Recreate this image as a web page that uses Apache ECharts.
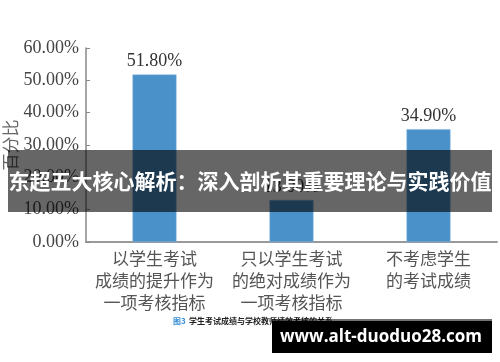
<!DOCTYPE html>
<html>
<head>
<meta charset="utf-8">
<script src="https://cdn.jsdelivr.net/npm/echarts@6/dist/echarts.min.js"></script>
<style>
html,body{margin:0;padding:0;background:#fff;}
#c{width:500px;height:362px;}
</style>
</head>
<body>
<div id="c"></div>
<script>
const categories = [
  '以学生考试\n成绩的提升作为\n一项考核指标',
  '只以学生考试\n的绝对成绩作为\n一项考核指标',
  '不考虑学生\n的考试成绩'
];
const values = [51.8, 13.0, 34.9];
const yTicks = [0, 10, 20, 30, 40, 50, 60];
const yAxisName = '百分比';
const caption = '学生考试成绩与学校教师绩效考核的关系';
const bannerText = '东超五大核心解析：深入剖析其重要理论与实践价值';
const watermark = 'www.alt-duoduo28.com';

const serif = '"Liberation Serif", "DejaVu Serif", serif';
const cjk = '"Noto Sans CJK SC", sans-serif';

const chart = echarts.init(document.getElementById('c'));
chart.setOption({
  animation: false,
  backgroundColor: '#fff',
  grid: { left: 86, right: 3, top: 48, bottom: 120, containLabel: false, outerBoundsMode: 'none' },
  xAxis: {
    type: 'category',
    data: categories,
    axisLine: { lineStyle: { color: '#999', width: 2 } },
    axisTick: { show: false },
    axisLabel: {
      interval: 0,
      color: '#555',
      fontFamily: cjk,
      fontSize: 17,
      lineHeight: 22,
      margin: 6,
      align: 'center'
    }
  },
  yAxis: {
    type: 'value',
    min: yTicks[0],
    max: yTicks[yTicks.length - 1],
    interval: 10,
    name: yAxisName,
    nameLocation: 'middle',
    nameRotate: 90,
    nameGap: 67,
    nameMoveOverlap: false,
    nameTextStyle: { color: '#666', fontFamily: cjk, fontSize: 17 },
    axisLine: { show: true, lineStyle: { color: '#888', width: 1.5 } },
    axisTick: { show: true, inside: true, length: 4, lineStyle: { color: '#888' } },
    splitLine: { show: false },
    axisLabel: {
      color: '#444',
      fontFamily: serif,
      fontSize: 18,
      margin: 7,
      formatter: v => v.toFixed(2) + '%'
    }
  },
  series: [{
    type: 'bar',
    data: values,
    barWidth: 44,
    itemStyle: { color: '#4a90c9', borderColor: '#8dbbe0', borderWidth: 0.5 },
    label: {
      show: true,
      position: 'top',
      distance: 4,
      color: '#333',
      fontFamily: serif,
      fontSize: 18,
      formatter: p => p.value.toFixed(2) + '%'
    }
  }],
  graphic: [
    {
      type: 'text',
      left: 173,
      top: 315,
      style: {
        text: '{b|图3} {t|' + caption + '}',
        rich: {
          b: { fill: '#3a8fd8', fontSize: 8, fontFamily: cjk, fontWeight: 'bold' },
          t: { fill: '#222', fontSize: 8, fontFamily: cjk, fontWeight: 'bold' }
        }
      },
      z: 100
    },
    {
      type: 'rect',
      shape: { x: 8, y: 150, width: 484, height: 62 },
      style: { fill: 'rgba(0,0,0,0.6)' },
      z: 200
    },
    {
      type: 'text',
      x: 250, y: 181,
      style: {
        text: bannerText,
        fill: '#fff',
        fontSize: 21,
        fontWeight: 'bold',
        fontFamily: cjk,
        align: 'center',
        verticalAlign: 'middle'
      },
      z: 201
    },
    {
      type: 'rect',
      shape: { x: 272, y: 319, width: 220, height: 3 },
      style: { fill: 'rgba(0,0,0,0.55)' },
      z: 200
    },
    {
      type: 'rect',
      shape: { x: 272, y: 321, width: 220, height: 32 },
      style: { fill: '#000' },
      z: 200
    },
    {
      type: 'text',
      x: 381, y: 337,
      style: {
        text: watermark,
        fill: '#fff',
        fontSize: 17,
        fontWeight: 'bold',
        fontFamily: '"Open Sans", sans-serif',
        align: 'center',
        verticalAlign: 'middle'
      },
      z: 201
    }
  ]
});
</script>
</body>
</html>
